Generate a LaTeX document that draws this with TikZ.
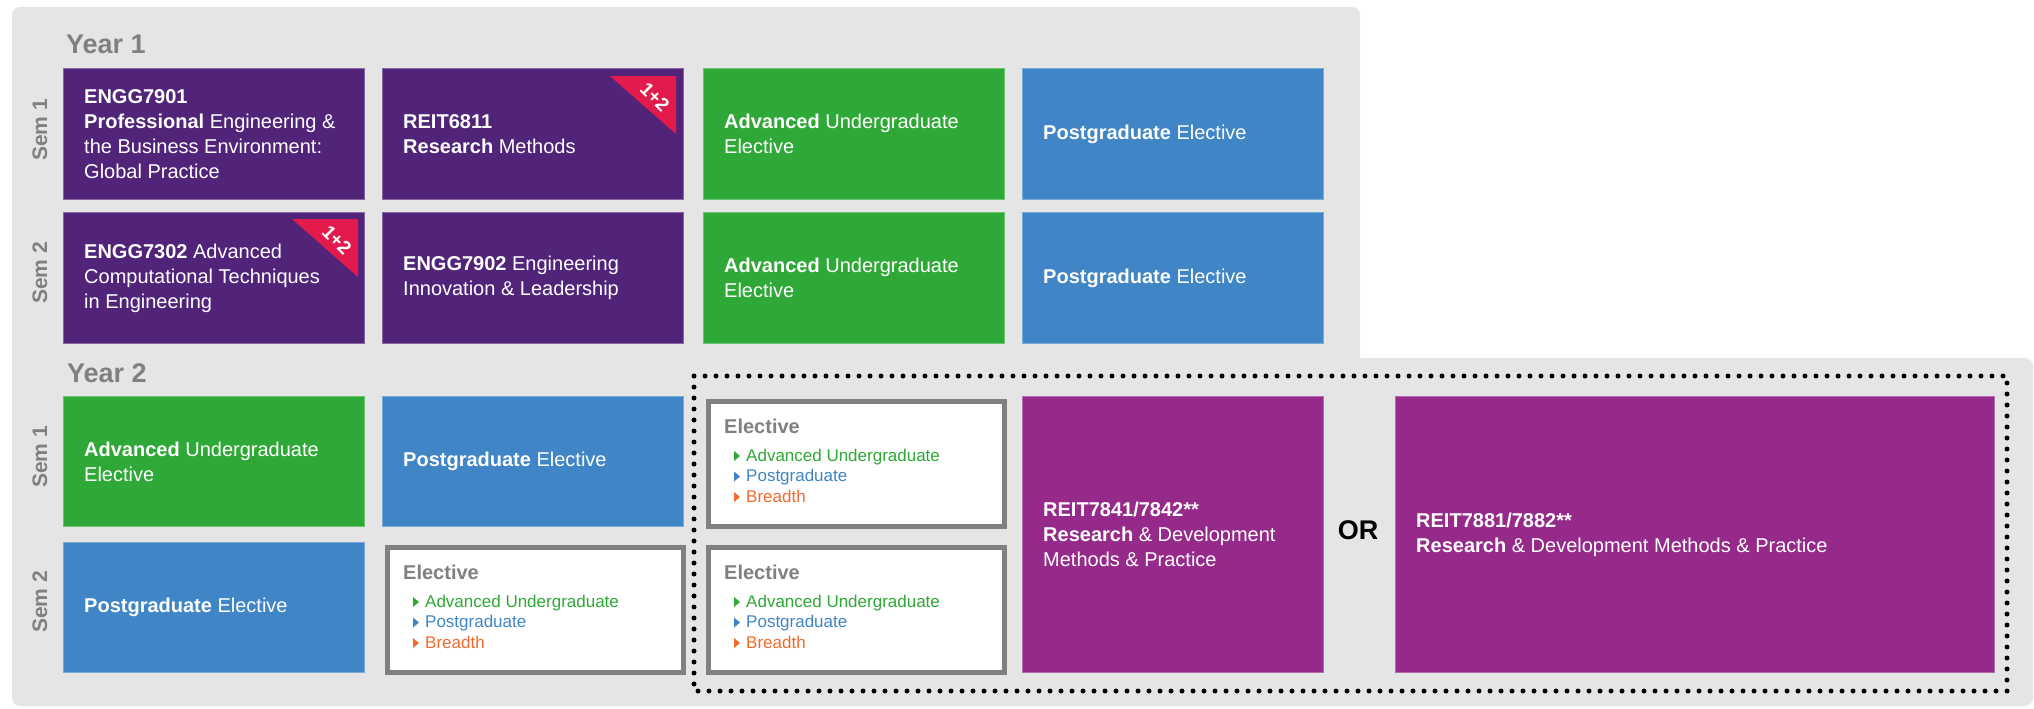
\documentclass[tikz,border=0pt]{standalone}
\usepackage{fontspec}
\setmainfont{Liberation Sans}
\definecolor{uqpurple}{HTML}{51247A}
\definecolor{egreen}{HTML}{2EA836}
\definecolor{eblue}{HTML}{4085C6}
\definecolor{rmag}{HTML}{962A8B}
\definecolor{badgered}{HTML}{E31B4C}
\definecolor{bggray}{HTML}{E5E5E5}
\definecolor{gtext}{HTML}{808080}
\definecolor{borange}{HTML}{F26B2D}
\tikzset{
  course/.style={anchor=north west, inner sep=0pt, minimum width=301pt, minimum height=131pt, fill=#1, draw=#1!70!white, line width=0.8pt},
  ctext/.style={anchor=west, align=left, text=white, inner sep=0pt, font=\fontsize{20}{25}\selectfont},
  yearlbl/.style={anchor=base west, inner sep=0pt, text=gtext, font=\bfseries\fontsize{27}{30}\selectfont},
  semlbl/.style={rotate=90, inner sep=0pt, text=gtext, font=\bfseries\fontsize{21}{24}\selectfont},
  elbox/.style={anchor=north west, inner sep=0pt, minimum width=296pt, minimum height=125pt, fill=white, draw=gtext, line width=5pt},
  eltitle/.style={anchor=base west, inner sep=0pt, text=gtext, font=\bfseries\fontsize{20}{24}\selectfont},
  elitem/.style={anchor=base west, inner sep=0pt, font=\fontsize{17}{20}\selectfont},
  badgetxt/.style={rotate=-45, inner sep=0pt, text=white, font=\bfseries\fontsize{19}{22}\selectfont},
  ortxt/.style={inner sep=0pt, text=black, font=\bfseries\fontsize{27}{30}\selectfont},
  dotframe/.style={line width=5pt, dash pattern=on 0pt off 11pt, line cap=round, black}
}
\newcommand\ElecBox[3]{%
  \node[elbox] (#1) at (#2+2.5,#3+2.5) {};
  \node[eltitle] (#1t) at (#2+21,#3+37) {Elective};
  \fill[egreen] (#2+31,#3+55) -- (#2+31,#3+65) -- (#2+37,#3+60) -- cycle;
  \node[elitem, text=egreen] (#1a) at (#2+43,#3+65) {Advanced Undergraduate};
  \fill[eblue] (#2+31,#3+75.5) -- (#2+31,#3+85.5) -- (#2+37,#3+80.5) -- cycle;
  \node[elitem, text=eblue] (#1b) at (#2+43,#3+85.5) {Postgraduate};
  \fill[borange] (#2+31,#3+96) -- (#2+31,#3+106) -- (#2+37,#3+101) -- cycle;
  \node[elitem, text=borange] (#1c) at (#2+43,#3+106) {Breadth};
}
\begin{document}
\begin{tikzpicture}[x=1pt,y=-1pt]
\useasboundingbox (0,0) rectangle (2034,709);
% background
\fill[bggray, rounded corners=8pt] (12,7) rectangle (1360,420);
\fill[bggray, rounded corners=8pt] (12,358) rectangle (2033,706);

% Year 1
\node[yearlbl] (y1) at (66,53) {Year 1};
\node[semlbl] (s11) at (40,130) {Sem 1};
\node[semlbl] (s12) at (40,273) {Sem 2};

\node[course=uqpurple] (a1) at (63,68) {};
\node[ctext] (a1t) at ([xshift=21pt]a1.west) {\textbf{ENGG7901}\\\textbf{Professional} Engineering \&\\the Business Environment:\\Global Practice};
\node[course=uqpurple] (a2) at (382,68) {};
\node[ctext] (a2t) at ([xshift=21pt]a2.west) {\textbf{REIT6811}\\\textbf{Research} Methods};
\node[course=egreen] (a3) at (703,68) {};
\node[ctext] (a3t) at ([xshift=21pt]a3.west) {\textbf{Advanced} Undergraduate\\Elective};
\node[course=eblue] (a4) at (1022,68) {};
\node[ctext] (a4t) at ([xshift=21pt]a4.west) {\textbf{Postgraduate} Elective};

\node[course=uqpurple] (b1) at (63,212) {};
\node[ctext] (b1t) at ([xshift=21pt]b1.west) {\textbf{ENGG7302} Advanced\\Computational Techniques\\in Engineering};
\node[course=uqpurple] (b2) at (382,212) {};
\node[ctext] (b2t) at ([xshift=21pt]b2.west) {\textbf{ENGG7902} Engineering\\Innovation \& Leadership};
\node[course=egreen] (b3) at (703,212) {};
\node[ctext] (b3t) at ([xshift=21pt]b3.west) {\textbf{Advanced} Undergraduate\\Elective};
\node[course=eblue] (b4) at (1022,212) {};
\node[ctext] (b4t) at ([xshift=21pt]b4.west) {\textbf{Postgraduate} Elective};

% badges
\fill[badgered] (610,76) -- (676,76) -- (676,134) -- cycle;
\node[badgetxt] (bd1) at (655,97) {1+2};
\fill[badgered] (292,219) -- (358,219) -- (358,277) -- cycle;
\node[badgetxt] (bd2) at (337,240) {1+2};

% Year 2
\node[yearlbl] (y2) at (67,382) {Year 2};
\node[semlbl] (s21) at (40,457) {Sem 1};
\node[semlbl] (s22) at (40,602) {Sem 2};

\node[course=egreen, minimum height=130pt] (c1) at (63,396) {};
\node[ctext] (c1t) at ([xshift=21pt]c1.west) {\textbf{Advanced} Undergraduate\\Elective};
\node[course=eblue, minimum height=130pt] (c2) at (382,396) {};
\node[ctext] (c2t) at ([xshift=21pt]c2.west) {\textbf{Postgraduate} Elective};
\node[course=eblue, minimum height=130pt] (d1) at (63,542) {};
\node[ctext] (d1t) at ([xshift=21pt]d1.west) {\textbf{Postgraduate} Elective};

\ElecBox{e1}{703}{396}
\ElecBox{e2}{382}{542}
\ElecBox{e3}{703}{542}

\node[course=rmag, minimum height=276pt] (r1) at (1022,396) {};
\node[ctext] (r1t) at ([xshift=21pt]r1.west) {\textbf{REIT7841/7842**}\\\textbf{Research} \& Development\\Methods \& Practice};
\node[ortxt] (or) at (1358,530) {OR};
\node[course=rmag, minimum width=599pt, minimum height=276pt] (r2) at (1395,396) {};
\node[ctext] (r2t) at ([xshift=21pt]r2.west) {\textbf{REIT7881/7882**}\\\textbf{Research} \& Development Methods \& Practice};

\draw[dotframe] (694,376) rectangle (2007,691);
\end{tikzpicture}
\end{document}
